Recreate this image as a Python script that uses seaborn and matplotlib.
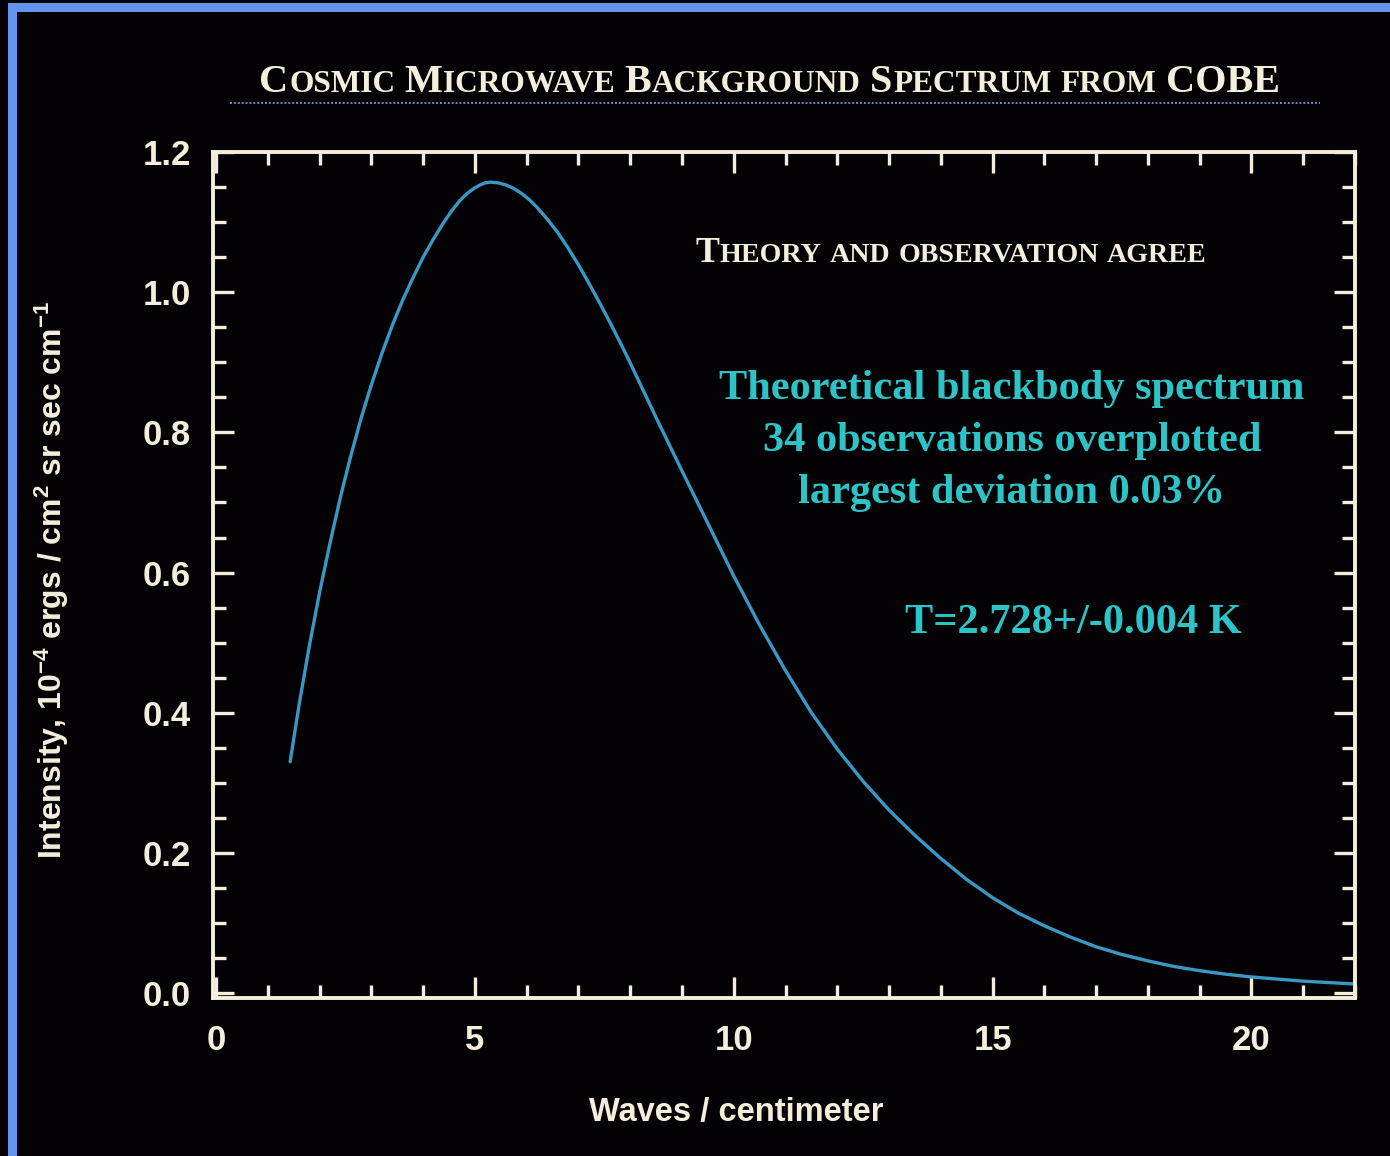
import matplotlib
matplotlib.use("Agg")
import matplotlib.pyplot as plt
import seaborn as sns
import pandas as pd
from matplotlib.ticker import MultipleLocator, FixedLocator, FixedFormatter
from matplotlib.patches import Rectangle
from matplotlib.lines import Line2D

# ---------------- data ----------------
wavenumber = [1.43, 1.6, 1.8, 2.0, 2.2, 2.4, 2.6, 2.8, 3.0, 3.2, 3.4, 3.6, 3.8,
              4.0, 4.2, 4.4, 4.55, 4.7, 4.85, 5.0, 5.1, 5.2, 5.3, 5.45, 5.6,
              5.75, 5.9, 6.05, 6.2, 6.4, 6.6, 6.8, 7.0, 7.2, 7.4, 7.6, 7.8, 8.0,
              8.25, 8.5, 8.75, 9.0, 9.5, 10.0, 10.5, 11.0, 11.5, 12.0, 12.5,
              13.0, 13.5, 14.0, 14.5, 15.0, 15.5, 16.0, 16.5, 17.0, 17.5, 18.0,
              18.5, 19.0, 19.5, 20.0, 21.0, 22.0]
intensity = [0.330, 0.410, 0.495, 0.572, 0.642, 0.707, 0.766, 0.820, 0.868, 0.912,
             0.952, 0.988, 1.020, 1.050, 1.076, 1.100, 1.116, 1.130, 1.141, 1.149,
             1.153, 1.156, 1.157, 1.156, 1.153, 1.148, 1.141, 1.132, 1.121, 1.104,
             1.085, 1.063, 1.039, 1.013, 0.986, 0.958, 0.929, 0.899, 0.860, 0.821,
             0.783, 0.745, 0.670, 0.595, 0.525, 0.460, 0.400, 0.348, 0.302, 0.261,
             0.225, 0.192, 0.162, 0.136, 0.114, 0.096, 0.080, 0.066, 0.055, 0.046,
             0.038, 0.032, 0.027, 0.023, 0.017, 0.013]

x_ticks = [0, 5, 10, 15, 20]
x_tick_labels = ["0", "5", "10", "15", "20"]
y_ticks = [0.0, 0.2, 0.4, 0.6, 0.8, 1.0, 1.2]
y_tick_labels = ["0.0", "0.2", "0.4", "0.6", "0.8", "1.0", "1.2"]

title_words = [[("C", 1), ("OSMIC", 0)], [("M", 1), ("ICROWAVE", 0)],
               [("B", 1), ("ACKGROUND", 0)], [("S", 1), ("PECTRUM", 0)],
               [("FROM", 0)], [("COBE", 1)]]
sub_words = [[("T", 1), ("HEORY", 0)], [("AND", 0)], [("OBSERVATION", 0)], [("AGREE", 0)]]
note_lines = ["Theoretical blackbody spectrum", "34 observations overplotted",
              "largest deviation 0.03%"]
temp_text = "T=2.728+/-0.004 K"
x_label = "Waves / centimeter"
y_label = r"Intensity, 10$^{-4}$ ergs / cm$^{2}$ sr sec cm$^{-1}$"

# ---------------- style ----------------
BG = "#050205"
CREAM = "#f3efdc"
TEAL = "#2cc4c6"
CURVE = "#3a98c4"
BLUE = "#6495ed"

sns.set_theme(style="dark")
plt.rcParams.update({
    "font.family": ["Liberation Sans", "DejaVu Sans"],
    "mathtext.fontset": "custom",
    "mathtext.rm": "Liberation Sans:bold",
    "mathtext.it": "Liberation Sans:bold",
    "mathtext.bf": "Liberation Sans:bold",
    "mathtext.default": "rm",
    "axes.facecolor": BG,
    "figure.facecolor": BG,
})

W, H = 1390, 1156
fig = plt.figure(figsize=(W / 100, H / 100), dpi=100, facecolor=BG)

# blue frame at left and top (cropped slide border)
fig.patches.append(Rectangle((8 / W, 0), 9 / W, (H - 3) / H, transform=fig.transFigure,
                             facecolor=BLUE, edgecolor="none", zorder=0))
fig.patches.append(Rectangle((8 / W, 1 - 12 / H), (W - 8) / W, 9 / H, transform=fig.transFigure,
                             facecolor=BLUE, edgecolor="none", zorder=0))

left, right, top, bottom = 213, 1355, 152, 998
ax = fig.add_axes([left / W, 1 - bottom / H, (right - left) / W, (bottom - top) / H])
ax.set_facecolor(BG)

df = pd.DataFrame({"wavenumber": wavenumber, "intensity": intensity})
sns.lineplot(data=df, x="wavenumber", y="intensity", ax=ax, color=CURVE,
             linewidth=2.4, estimator=None, sort=False)

ax.set_xlim(-0.06, 22)
ax.set_ylim(-0.007, 1.2)
ax.xaxis.set_major_locator(FixedLocator(x_ticks))
ax.xaxis.set_major_formatter(FixedFormatter(x_tick_labels))
ax.yaxis.set_major_locator(FixedLocator(y_ticks))
ax.yaxis.set_major_formatter(FixedFormatter(y_tick_labels))
ax.xaxis.set_minor_locator(MultipleLocator(1))
ax.yaxis.set_minor_locator(MultipleLocator(0.05))
ax.grid(False)

for s in ax.spines.values():
    s.set_visible(True)
    s.set_color(CREAM)
    s.set_linewidth(2.8)

ax.tick_params(which="both", direction="in", top=True, right=True, bottom=True, left=True,
               color=CREAM, width=2.4, labelcolor=CREAM)
ax.tick_params(which="major", length=15)
ax.tick_params(which="minor", length=9.5)
ax.tick_params(axis="x", which="major", pad=19, labelsize=25)
ax.tick_params(axis="y", which="major", pad=16, labelsize=25)
for lab in ax.get_xticklabels() + ax.get_yticklabels():
    lab.set_fontweight("bold")
    lab.set_family("Liberation Sans")

ax.set_xlabel(x_label, fontsize=23.5, fontweight="bold", color=CREAM, va="center")
ax.xaxis.set_label_coords((736 - left) / (right - left), -(1113 - bottom) / (bottom - top))
ax.set_ylabel(y_label, fontsize=23, fontweight="bold", color=CREAM, va="center")
ax.yaxis.set_label_coords((52 - left) / (right - left), (bottom - 580) / (bottom - top))

# ---------------- small caps helper ----------------
renderer = fig.canvas.get_renderer()


def measure(s, size, family, weight):
    t = fig.text(0, 0, s, fontsize=size, family=family, weight=weight)
    w = t.get_window_extent(renderer).width
    t.remove()
    return w


def small_caps(words, x0, base, width, big, ratio, color, family, weight):
    def total(bsize):
        ssize = bsize * ratio
        sp = measure("n n", ssize, family, weight) - measure("nn", ssize, family, weight)
        tot = 0
        for w in words:
            for txt, b in w:
                tot += measure(txt, bsize if b else ssize, family, weight) + 0.04 * bsize
        tot += sp * (len(words) - 1)
        return tot, sp
    tot, sp = total(big)
    big = big * width / tot
    tot, sp = total(big)
    x = x0
    for i, w in enumerate(words):
        for txt, b in w:
            size = big if b else big * ratio
            fig.text(x / W, 1 - base / H, txt, fontsize=size, family=family,
                     weight=weight, color=color, ha="left", va="baseline")
            x += measure(txt, size, family, weight) + 0.04 * big
        x += sp


small_caps(title_words, 259, 92, 1024, 30, 0.78, CREAM, "Liberation Serif", "bold")
fig.lines.append(Line2D([230 / W, 1320 / W], [1 - 103 / H, 1 - 103 / H], transform=fig.transFigure,
                        color="#7088c8", linewidth=1.4, linestyle=(0, (1, 1))))
small_caps(sub_words, 695, 262, 513, 22, 0.78, CREAM, "Liberation Serif", "bold")

for i, line in enumerate(note_lines):
    fig.text(1012 / W, 1 - (389 + 52 * i) / H, line, fontsize=30.5, family="Liberation Serif",
             weight="bold", color=TEAL, ha="center", va="center")
fig.text(1073 / W, 1 - 623 / H, temp_text, fontsize=30.5, family="Liberation Serif",
         weight="bold", color=TEAL, ha="center", va="center")

fig.savefig("out.png", dpi=100, facecolor=BG)
